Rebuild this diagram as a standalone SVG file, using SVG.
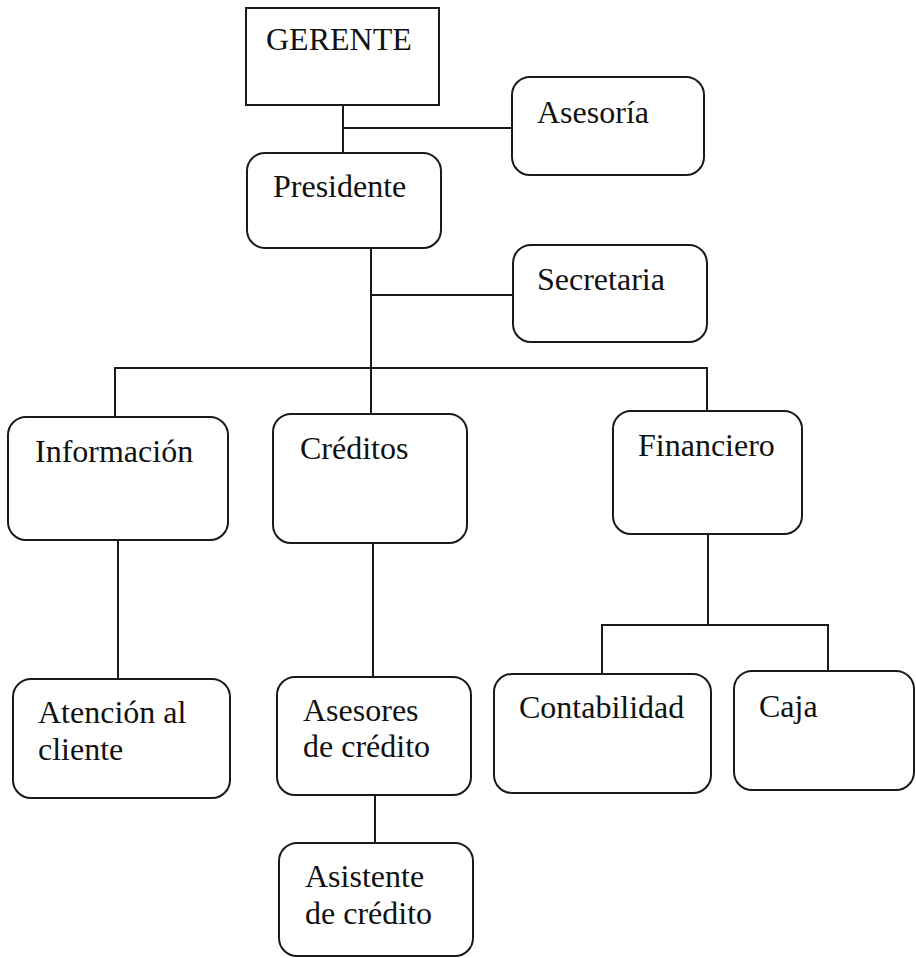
<svg xmlns="http://www.w3.org/2000/svg" width="916" height="958" viewBox="0 0 916 958">
<style>
.box{fill:#fff;stroke:#1a1a1a;stroke-width:2}
.ln{fill:none;stroke:#1a1a1a;stroke-width:2}
text{font-family:"Liberation Serif","Times New Roman",serif;font-size:32px;fill:#111}
</style>
<rect width="916" height="958" fill="#fff"/>
<g id="connectors">
<polyline class="ln" points="343,105 343,153"/>
<polyline class="ln" points="343,128 513,128"/>
<polyline class="ln" points="371,248 371,368"/>
<polyline class="ln" points="371,295 513,295"/>
<polyline class="ln" points="115,417 115,368 707,368 707,411"/>
<polyline class="ln" points="371,368 371,414"/>
<polyline class="ln" points="118,540 118,679"/>
<polyline class="ln" points="373,543 373,677"/>
<polyline class="ln" points="375,795 375,843"/>
<polyline class="ln" points="708,534 708,625"/>
<polyline class="ln" points="602,674 602,625 828,625 828,671"/>
</g>
<g id="gerente"><rect class="box" x="246" y="8" width="193" height="97"/><text x="266" y="50">GERENTE</text></g>
<g id="asesoria"><rect class="box" x="512" y="77" width="192" height="98" rx="18"/><text x="537" y="123">Asesoría</text></g>
<g id="presidente"><rect class="box" x="247" y="153" width="194" height="95" rx="18"/><text x="273" y="197">Presidente</text></g>
<g id="secretaria"><rect class="box" x="513" y="245" width="194" height="97" rx="18"/><text x="537" y="290">Secretaria</text></g>
<g id="informacion"><rect class="box" x="8" y="417" width="220" height="123" rx="18"/><text x="35" y="462">Información</text></g>
<g id="creditos"><rect class="box" x="273" y="414" width="194" height="129" rx="18"/><text x="300" y="459">Créditos</text></g>
<g id="financiero"><rect class="box" x="613" y="411" width="189" height="123" rx="18"/><text x="638" y="456">Financiero</text></g>
<g id="atencion"><rect class="box" x="13" y="679" width="217" height="119" rx="18"/><text x="38" y="723">Atención al</text><text x="38" y="760">cliente</text></g>
<g id="asesores"><rect class="box" x="277" y="677" width="194" height="118" rx="18"/><text x="303" y="721">Asesores</text><text x="303" y="757">de crédito</text></g>
<g id="asistente"><rect class="box" x="279" y="843" width="194" height="113" rx="18"/><text x="305" y="887">Asistente</text><text x="305" y="924">de crédito</text></g>
<g id="contabilidad"><rect class="box" x="494" y="674" width="217" height="119" rx="18"/><text x="519" y="718">Contabilidad</text></g>
<g id="caja"><rect class="box" x="734" y="671" width="180" height="119" rx="18"/><text x="759" y="717">Caja</text></g>
</svg>
